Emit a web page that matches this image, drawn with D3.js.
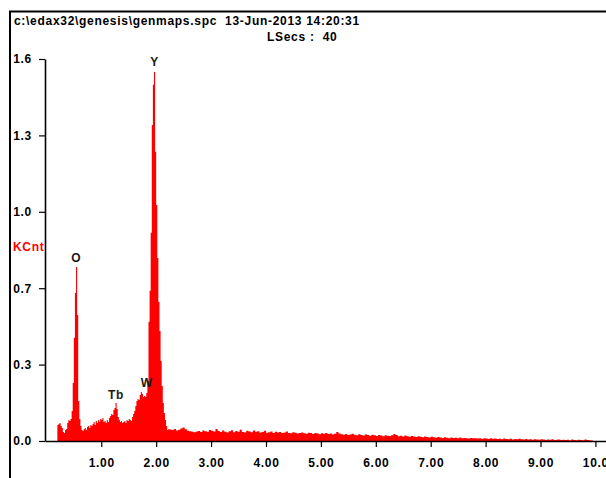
<!DOCTYPE html>
<html><head><meta charset="utf-8">
<script src="https://cdn.jsdelivr.net/npm/d3@7"></script>
<style>
html,body{margin:0;padding:0;background:#fff;}
svg{display:block;}
text{font-family:"Liberation Sans",Arial,sans-serif;}
</style></head>
<body>
<svg id="c" width="606" height="478"></svg>
<script>
// ---- data ----
const titleText = "c:\\edax32\\genesis\\genmaps.spc  13-Jun-2013 14:20:31";
const subText = "LSecs :  40";
const yUnitLabel = "KCnt";
const xTickValues = [1,2,3,4,5,6,7,8,9,10];
const xTickLabels = ["1.00","2.00","3.00","4.00","5.00","6.00","7.00","8.00","9.00","10.0"];
const yTickValues = [0,0.32,0.64,0.96,1.28,1.6];
const yTickLabels = ["0.0","0.3","0.7","1.0","1.3","1.6"];
// low-energy channels: start 0.20 keV, step 0.02 keV (KCnt)
const lowStart = 0.20, lowStep = 0.02;
const lowCounts = [
0.067,0.071,0.075,0.063,0.054,0.038,0.034,0.046,0.050,0.075,
0.088,0.084,0.092,0.126,0.243,0.432,0.620,0.729,0.528,0.168,
0.092,0.063,0.046,0.042,0.050,0.054,0.046,0.059,0.063,0.054,
0.067,0.063,0.071,0.080,0.067,0.084,0.075,0.088,0.080,0.092,
0.088,0.096,0.080,0.084,0.075,0.088,0.080,0.096,0.105,0.113,
0.109,0.130,0.138,0.159,0.134,0.101,0.088,0.080,0.084,0.075,
0.080,0.084,0.075,0.088,0.084,0.092,0.088,0.084,0.101,0.113,
0.126,0.147,0.168,0.176,0.172,0.193,0.205,0.197,0.184,0.189,
0.184,0.201,0.251,0.499,0.629,0.872,1.324,1.492,1.546,1.211,
0.989,0.767,0.582,0.461,0.335,0.230,0.159,0.117,0.088,0.063,
0.046,0.050];
// high-energy channels: start 2.24 keV, step 0.04 keV (KCnt)
const highStart = 2.24, highStep = 0.04;
const highCounts = [
0.048,0.046,0.050,0.044,0.047,0.052,0.057,0.049,0.043,0.041,
0.039,0.037,0.040,0.042,0.038,0.044,0.041,0.039,0.046,0.043,
0.040,0.050,0.042,0.038,0.044,0.039,0.036,0.041,0.045,0.037,
0.042,0.039,0.047,0.038,0.036,0.043,0.040,0.037,0.044,0.039,
0.041,0.036,0.038,0.043,0.035,0.037,0.040,0.034,0.039,0.036,
0.038,0.033,0.036,0.040,0.034,0.032,0.037,0.035,0.031,0.034,
0.036,0.032,0.030,0.035,0.033,0.029,0.034,0.031,0.028,0.032,
0.030,0.033,0.029,0.031,0.027,0.030,0.038,0.031,0.028,0.026,
0.029,0.025,0.027,0.030,0.026,0.024,0.028,0.025,0.023,0.027,
0.025,0.022,0.026,0.024,0.021,0.025,0.023,0.020,0.024,0.022,
0.021,0.024,0.029,0.025,0.020,0.022,0.019,0.023,0.020,0.018,
0.021,0.019,0.017,0.020,0.018,0.016,0.019,0.017,0.015,0.018,
0.016,0.014,0.017,0.015,0.013,0.016,0.014,0.012,0.015,0.013,
0.014,0.012,0.015,0.011,0.013,0.012,0.010,0.013,0.011,0.012,
0.010,0.012,0.009,0.011,0.010,0.008,0.011,0.009,0.010,0.008,
0.009,0.007,0.010,0.008,0.007,0.009,0.006,0.008,0.007,0.009,
0.007,0.006,0.008,0.006,0.007,0.005,0.007,0.006,0.005,0.007,
0.006,0.004,0.006,0.005,0.007,0.004,0.005,0.006,0.004,0.005,
0.004,0.005,0.003,0.006,0.004,0.003,0.005,0.004,0.003,0.006,
0.004,0.003,0.002,0.000,0.000];
const peakNames = ["O","Tb","W","Y"];
const peakKeV = [0.545,1.27,1.83,1.97];
const peakLabelKCnt = [0.74,0.165,0.215,1.56];

// ---- build points ----
const pts = [];
lowCounts.forEach((v,i)=>pts.push({e: lowStart + i*lowStep, v}));
highCounts.forEach((v,i)=>pts.push({e: highStart + i*highStep, v}));
pts.push({e: highStart + highCounts.length*highStep, v: 0});

const svg = d3.select("#c");
const x = d3.scaleLinear().domain([-0.025, 10.2]).range([45, 606.4]);
const y = d3.scaleLinear().domain([0, 1.6]).range([441, 59]);

// frame
svg.append("path").attr("d","M10,478V11.5H606").attr("fill","none")
  .attr("stroke","#000").attr("stroke-width",2);

const font = (s)=>s.attr("font-size","12px").attr("font-weight","bold").attr("letter-spacing","0.7px");

font(svg.append("text").attr("x",14).attr("y",25).attr("fill","#000")
  .style("white-space","pre").text(titleText));
font(svg.append("text").attr("x",267).attr("y",41).attr("fill","#000")
  .style("white-space","pre").text(subText));

// spectrum
const area = d3.area().curve(d3.curveStepAfter)
  .x(d=>x(d.e)).y0(y(0)).y1(d=>y(d.v));
svg.append("path").datum(pts).attr("d",area).attr("fill","#ff0000");

// axes
const gy = svg.append("g").attr("transform","translate(45,0)")
  .call(d3.axisLeft(y).tickValues(yTickValues).tickFormat((d,i)=>yTickLabels[i])
    .tickSize(6).tickSizeOuter(0).tickPadding(7));
const gx = svg.append("g").attr("transform","translate(0,441)")
  .call(d3.axisBottom(x).tickValues(xTickValues).tickFormat((d,i)=>xTickLabels[i])
    .tickSize(6).tickSizeOuter(0).tickPadding(11));
[gx,gy].forEach(g=>{
  g.select(".domain").attr("stroke","#000").attr("stroke-width",1.6);
  g.selectAll(".tick line").attr("stroke","#000").attr("stroke-width",1.2);
  g.selectAll(".tick text").attr("fill","#000").attr("font-family","Liberation Sans, Arial, sans-serif")
    .attr("font-size","12px").attr("font-weight","bold").attr("letter-spacing","0.7px");
});

// unit label
font(svg.append("text").attr("x",13).attr("y",251).attr("fill","#ff0000").text(yUnitLabel));

// peak labels
peakNames.forEach((n,i)=>{
  font(svg.append("text").attr("x",x(peakKeV[i])).attr("y",y(peakLabelKCnt[i])-2.5)
    .attr("text-anchor","middle").attr("fill","#1a1a1a").text(n));
});
</script>
</body></html>
